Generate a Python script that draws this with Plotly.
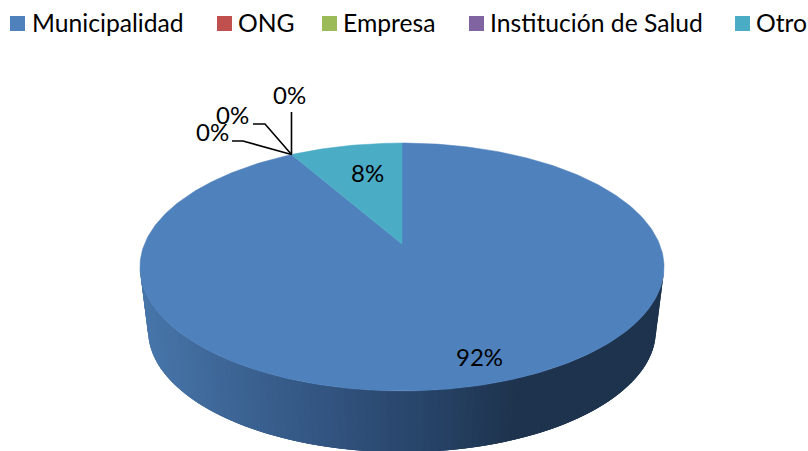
import math
import plotly.graph_objects as go

categories = ["Municipalidad", "ONG", "Empresa", "Institución de Salud", "Otro"]
values = [91.7, 0, 0, 0, 8.3]
colors = ["#4F81BD", "#C0504D", "#9BBB59", "#8064A2", "#4BACC6"]

FONT = "Lato"
FS = 24
LEGEND_FS = 24.7
CX = 402
K = 0.1855
TOP = dict(a=257.5, b=119.7, y=244)
BOT = dict(a=249.5, b=117.5, y=308)
WALL_STOPS = [(148, (71, 117, 169)), (340, (50, 84, 128)), (450, (38, 66, 102)), (530, (30, 51, 77)), (660, (30, 51, 77))]


def proj(deg, d):
    t = math.radians(deg)
    u, v = math.sin(t), math.cos(t)
    w = 1 + K * v
    return CX + d["a"] * u / w, d["y"] - d["b"] * v / w


def wall_color(x):
    for (x0, c0), (x1, c1) in zip(WALL_STOPS, WALL_STOPS[1:]):
        if x <= x1:
            f = max(0, (x - x0) / (x1 - x0))
            r = [round(p + (q - p) * f) for p, q in zip(c0, c1)]
            return f"rgb({r[0]},{r[1]},{r[2]})"
    return "rgb(30,51,77)"


fig = go.Figure()

# side wall of the disc, front half; strips overlap so no seams show
edge = math.degrees(math.asin(K))
start, end = 90 + edge, 270 - edge
N = 120
step = (end - start) / N
for i in range(N):
    t0 = start + step * (N - 1 - i)
    t1 = min(end, t0 + step * 3)
    arc = [t0 + (t1 - t0) * j / 3 for j in range(4)]
    p = [proj(t, TOP) for t in arc] + [proj(t, BOT) for t in reversed(arc)]
    c = wall_color((proj(t0, TOP)[0] + proj(t0 + step, TOP)[0]) / 2)
    fig.add_trace(go.Scatter(
        x=[q[0] for q in p] + [p[0][0]], y=[q[1] for q in p] + [p[0][1]],
        mode="lines", fill="toself", fillcolor=c,
        line=dict(width=0), hoverinfo="skip", showlegend=False))

# top face slices, clockwise from 12 o'clock
total = sum(values)
ang = 0.0
rim = {}
for name, val, col in zip(categories, values, colors):
    sweep = 360 * val / total
    rim[name] = proj(ang + sweep, TOP)
    if val > 0:
        n = max(2, int(sweep))
        pts = [proj(ang + sweep * j / n, TOP) for j in range(n + 1)]
        xs = [CX] + [q[0] for q in pts] + [CX]
        ys = [TOP["y"]] + [q[1] for q in pts] + [TOP["y"]]
        fig.add_trace(go.Scatter(x=xs, y=ys, mode="lines", fill="toself", fillcolor=col,
                                 line=dict(color=col, width=0.5), name=name,
                                 hoverinfo="name", showlegend=False))
    ang += sweep

# leader lines for the zero-value labels
apex = rim["Municipalidad"]
leaders = {
    "Institución de Salud": [(apex[0], 112)],
    "Empresa": [(265, 124), (253, 124)],
    "ONG": [(243, 141), (232, 141)],
}
for name, bends in leaders.items():
    fig.add_trace(go.Scatter(x=[apex[0]] + [b[0] for b in bends], y=[apex[1]] + [b[1] for b in bends],
                             mode="lines", line=dict(color="black", width=1.6),
                             hoverinfo="skip", showlegend=False))

# data labels
label_pos = {"Municipalidad": (479, 356), "ONG": (212, 131), "Empresa": (232, 114.5),
             "Institución de Salud": (289, 94.5), "Otro": (367, 172)}
for name, val in zip(categories, values):
    x, y = label_pos[name]
    fig.add_annotation(x=x, y=y, text=f"{round(val)}%", showarrow=False,
                       font=dict(family=FONT, size=FS, color="black"))

# legend
swatch_x = [17.5, 224.5, 329.5, 476.5, 742.5]
text_x = [29.5, 236, 340.5, 487.5, 753.5]
fig.add_trace(go.Scatter(x=swatch_x, y=[23.5] * 5, mode="markers",
                         marker=dict(symbol="square", size=15, color=colors, line=dict(width=0)),
                         hoverinfo="skip", showlegend=False))
for name, x in zip(categories, text_x):
    fig.add_annotation(x=x, y=22, text=name, showarrow=False, xanchor="left",
                       font=dict(family=FONT, size=LEGEND_FS, color="black"))

fig.update_layout(
    width=808, height=451, margin=dict(l=0, r=0, t=0, b=0),
    paper_bgcolor="white", plot_bgcolor="white", showlegend=False,
    xaxis=dict(range=[0, 808], visible=False, fixedrange=True),
    yaxis=dict(range=[451, 0], visible=False, fixedrange=True),
)
fig.write_html("out.html", config={"displayModeBar": False},
               post_script="document.body.style.margin='0';document.body.style.overflow='hidden';")
